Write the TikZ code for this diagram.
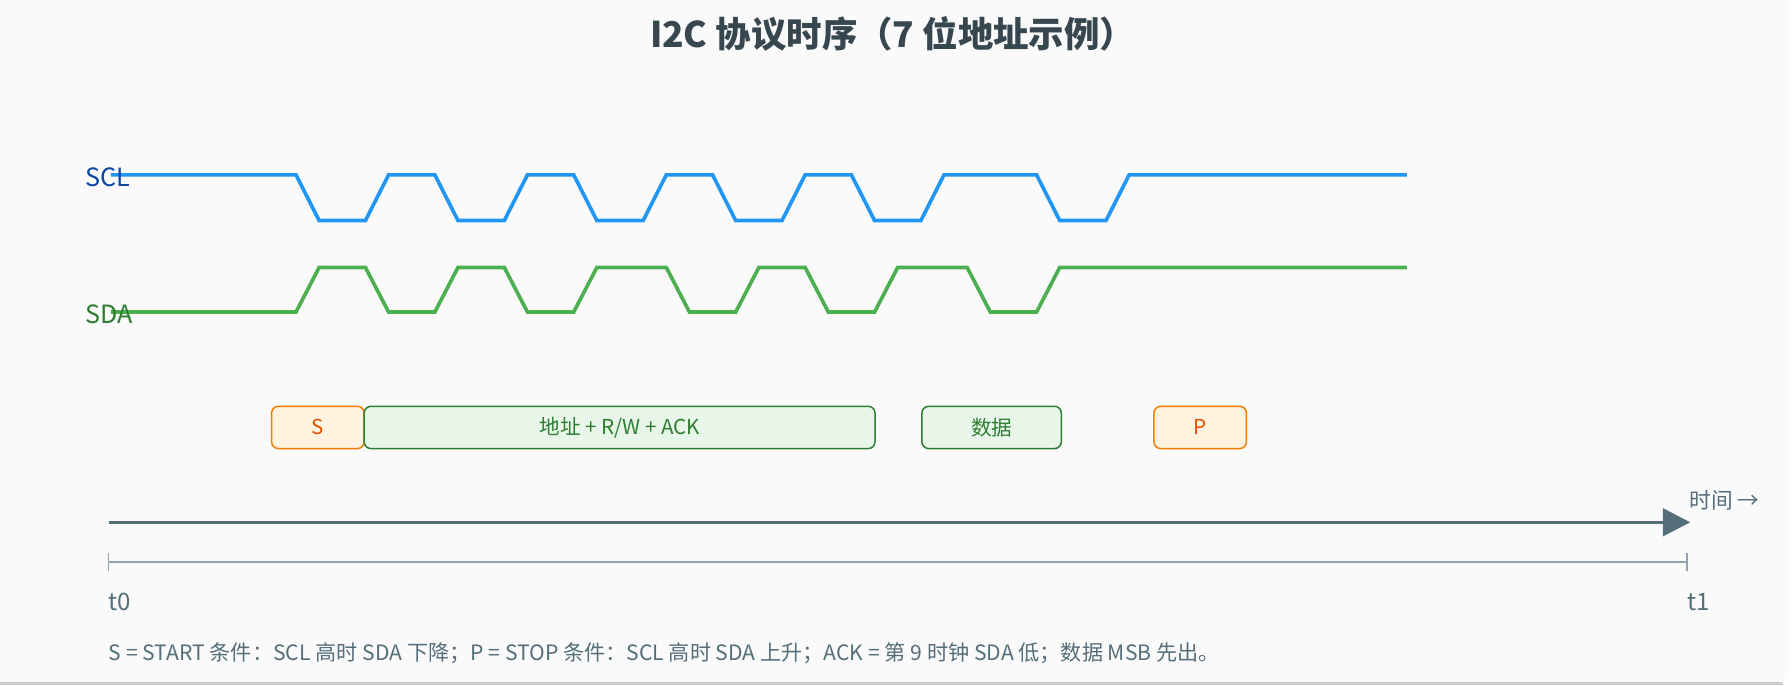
\documentclass[tikz,border=0pt]{standalone}
\usepackage{fontspec}
\setmainfont{Noto Sans CJK SC}
\usetikzlibrary{arrows.meta}
\definecolor{bg}{HTML}{FAFAFA}
\definecolor{scl}{HTML}{2196F3}
\definecolor{sda}{HTML}{4CAF50}
\definecolor{sclt}{HTML}{0D47A1}
\definecolor{sdat}{HTML}{2E7D32}
\definecolor{axis}{HTML}{546E7A}
\definecolor{scalegray}{HTML}{90A4AE}
\definecolor{titlec}{HTML}{37474F}
\definecolor{ofill}{HTML}{FFF3E0}
\definecolor{oline}{HTML}{F57C00}
\definecolor{otext}{HTML}{E65100}
\definecolor{gfill}{HTML}{E8F5E9}
\begin{document}
\begin{tikzpicture}[x=1pt,y=-1pt,
  wave/.style={line width=3.2pt,line join=miter},
  phase/.style={draw,rounded corners=6pt,line width=1.3pt,minimum height=37pt,inner sep=0pt,anchor=west,font=\fontsize{18}{21}\selectfont},
  ophase/.style={phase,draw=oline,fill=ofill,text=otext},
  gphase/.style={phase,draw=sdat,fill=gfill,text=sdat},
  lbl/.style={anchor=west,inner sep=0pt,font=\fontsize{22}{25}\selectfont}]
\useasboundingbox (0,0) rectangle (1568,600);
\fill[bg,rounded corners=8pt] (-10,-10) rectangle (1565,597);
\draw[black!20,line width=2pt] (0,598) -- (1560,598);
\node[font=\bfseries\fontsize{31}{35}\selectfont,text=titlec] (title) at (781,30) {I2C 协议时序（7 位地址示例）};
\begin{scope}[x=20.25pt,xshift=97pt]
\draw[wave,scl] (0,153)--(8,153)--(9,193)--(11,193)--(12,153)--(14,153)--(15,193)--(17,193)--(18,153)--(20,153)--(21,193)--(23,193)--(24,153)--(26,153)--(27,193)--(29,193)--(30,153)--(32,153)--(33,193)--(35,193)--(36,153)--(40,153)--(41,193)--(43,193)--(44,153)--(56,153);
\draw[wave,sda] (0,273)--(8,273)--(9,234)--(11,234)--(12,273)--(14,273)--(15,234)--(17,234)--(18,273)--(20,273)--(21,234)--(24,234)--(25,273)--(27,273)--(28,234)--(30,234)--(31,273)--(33,273)--(34,234)--(37,234)--(38,273)--(40,273)--(41,234)--(56,234);
\end{scope}
\node[lbl,text=sclt] (scllbl) at (75,155) {SCL};
\node[lbl,text=sdat] (sdalbl) at (75,275) {SDA};
\node[ophase,minimum width=81pt] (s) at (237,374) {S};
\node[gphase,minimum width=447pt] (addr) at (318,374) {地址 + R/W + ACK};
\node[gphase,minimum width=122pt] (data) at (806,374) {数据};
\node[ophase,minimum width=81pt] (p) at (1009,374) {P};
\coordinate (a0) at (95,457);
\coordinate (a1) at (1479,457);
\draw[axis,line width=3pt,-{Triangle[length=24pt,width=24pt]}] (a0) -- (a1);
\node[lbl,text=axis,font=\fontsize{19}{22}\selectfont] (time) at (1478,438) {时间 →};
\coordinate (b0) at (95,492);
\coordinate (b1) at (1476,492);
\draw[scalegray,line width=1.5pt] (b0) -- (b1);
\draw[scalegray,line width=1.5pt] (95,484) -- (95,500) (1476,484) -- (1476,500);
\node[lbl,text=axis,font=\fontsize{21}{24}\selectfont] (t0) at (95,527) {t0};
\node[lbl,text=axis,font=\fontsize{21}{24}\selectfont] (t1) at (1476,527) {t1};
\node[lbl,text=axis,font=\fontsize{18.5}{22}\selectfont] (cap) at (95,572) {S = START 条件：SCL 高时 SDA 下降；P = STOP 条件：SCL 高时 SDA 上升；ACK = 第 9 时钟 SDA 低；数据 MSB 先出。};
\end{tikzpicture}
\end{document}
